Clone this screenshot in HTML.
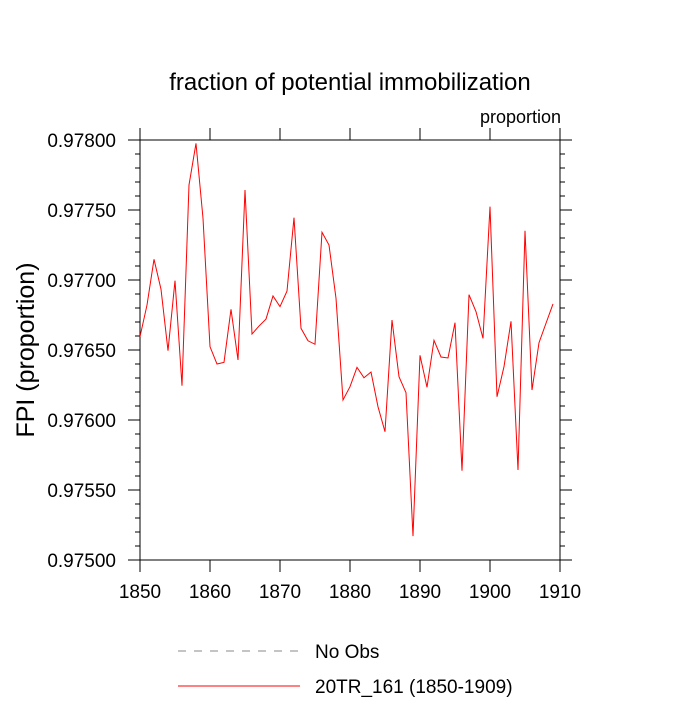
<!DOCTYPE html>
<html><head><meta charset="utf-8"><style>
body{margin:0;background:#fff}
svg text{font-family:"Liberation Sans",sans-serif;fill:#000}
</style></head><body>
<svg id="c" width="700" height="700">
<text x="350" y="90" text-anchor="middle" font-size="24">fraction of potential immobilization</text>
<text x="561" y="123" text-anchor="end" font-size="18">proportion</text>
<text transform="translate(34,350) rotate(-90)" text-anchor="middle" font-size="25">FPI  (proportion)</text>
<rect x="140" y="140" width="420" height="420" fill="none" stroke="#000" stroke-width="1"/>
<g id="axes"></g>
<polyline id="series" fill="none" stroke="#ff0000" stroke-width="1"/>
<line x1="178" y1="651" x2="300" y2="651" stroke="#888" stroke-dasharray="8,8"/>
<text x="315" y="658" font-size="19">No Obs</text>
<line x1="178" y1="686" x2="300" y2="686" stroke="#ff0000"/>
<text x="315" y="693" font-size="19">20TR_161 (1850-1909)</text>
</svg>
<script>
const years=[];for(let y=1850;y<=1909;y++)years.push(y);
const values=[0.976595,0.976821,0.977148,0.976934,0.976495,0.976995,0.976245,0.977679,0.977976,0.977441,
0.976524,0.9764,0.976412,0.976791,0.976429,0.977643,0.976614,0.976671,0.976721,0.976886,
0.97681,0.976921,0.977445,0.976655,0.976566,0.976541,0.977341,0.97725,0.976869,0.976143,
0.976238,0.976376,0.976302,0.976343,0.976095,0.975916,0.976714,0.976309,0.976195,0.975171,
0.976462,0.976234,0.976569,0.97645,0.976443,0.976695,0.975638,0.976895,0.976774,0.976583,
0.977524,0.976166,0.976381,0.976705,0.975643,0.977352,0.976214,0.976552,0.976691,0.976829];
const xTicks=[1850,1860,1870,1880,1890,1900,1910];
const yTicks=[0.975,0.9755,0.976,0.9765,0.977,0.9775,0.978];
const yTickLabels=["0.97500","0.97550","0.97600","0.97650","0.97700","0.97750","0.97800"];
const X=v=>140+(v-1850)/60*420;
const Y=v=>560-(v-0.975)/0.003*420;
const NS='http://www.w3.org/2000/svg';
const g=document.getElementById('axes');
function ln(x1,y1,x2,y2,name){const l=document.createElementNS(NS,'line');
l.setAttribute('x1',x1);l.setAttribute('y1',y1);l.setAttribute('x2',x2);l.setAttribute('y2',y2);
l.setAttribute('stroke','#000');


g.appendChild(l);}
function tx(x,y,s,anchor,name){const t=document.createElementNS(NS,'text');
t.setAttribute('x',x);t.setAttribute('y',y);t.setAttribute('font-size','19');t.setAttribute('text-anchor',anchor);t.textContent=s;


g.appendChild(t);}
xTicks.forEach(v=>{const x=X(v);ln(x,560,x,572,'x-tick');ln(x,140,x,128,'x-tick-top');tx(x,598,String(v),'middle','x-tick-label');});
yTicks.forEach((v,i)=>{const y=Y(v);ln(140,y,128,y,'y-tick');ln(560,y,572,y,'y-tick-right');tx(116,y+7,yTickLabels[i],'end','y-tick-label');});
for(let k=0;k<=30;k++){if(k%5===0)continue;const y=Y(0.975+k*0.0001);ln(140,y,135,y,'y-minor-tick');ln(560,y,565,y,'y-minor-tick-right');}
document.getElementById('series').setAttribute('points',years.map((yr,i)=>X(yr)+','+Y(values[i])).join(' '));
</script>
</body></html>
